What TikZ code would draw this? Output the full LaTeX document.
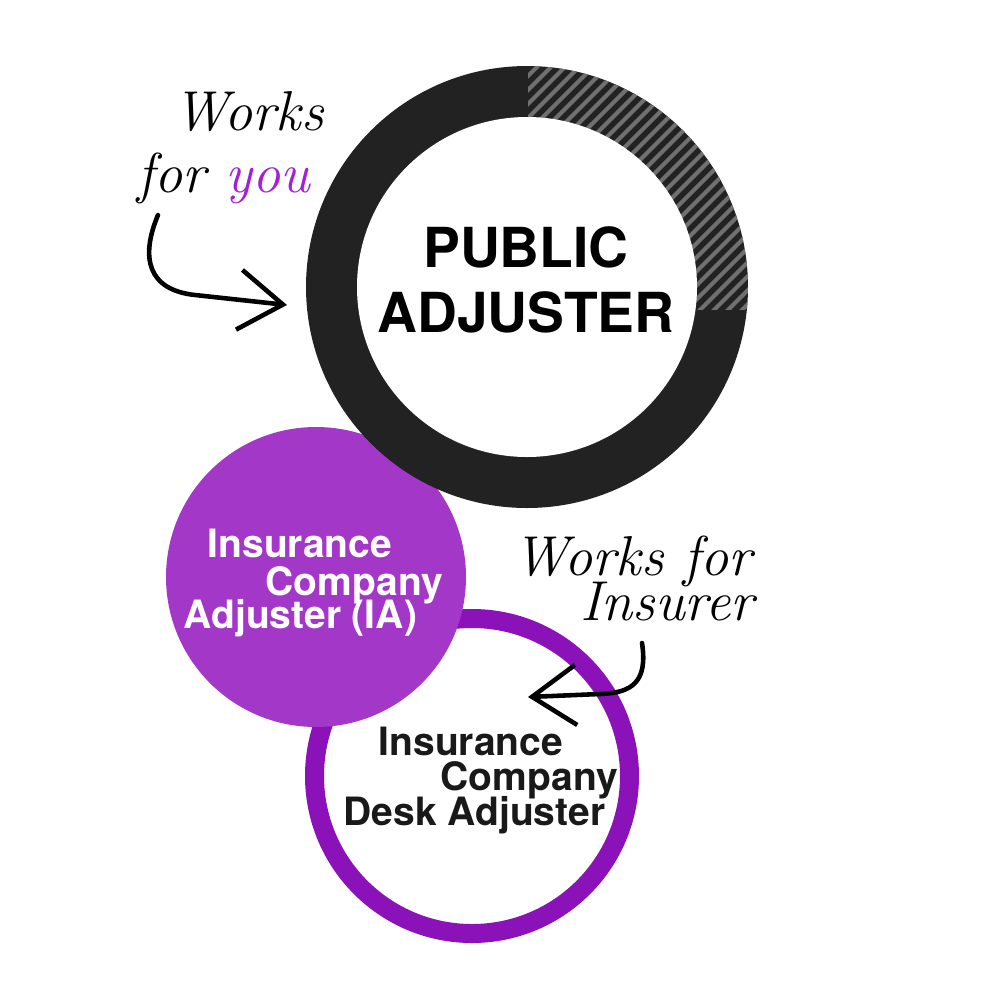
\documentclass[tikz,border=0pt]{standalone}
\usepackage{fontspec}
\setsansfont{TeX Gyre Heros}
\usepackage{tikz}
\usetikzlibrary{arrows.meta, calc}
\definecolor{ringBlack}{HTML}{222222}
\definecolor{hatchGray}{HTML}{707070}
\definecolor{iaPurple}{HTML}{A338C8}
\definecolor{deskPurple}{HTML}{8A12B8}
\definecolor{youPurple}{HTML}{A41FD6}
\newcommand{\handArrow}{{Straight Barb[length=4.4mm, width=6mm]}}

\begin{document}
\begin{tikzpicture}[x=0.1mm, y=-0.1mm, font=\sffamily\bfseries,
	big/.style={font=\sffamily\bfseries\fontsize{15.7}{18}\selectfont, anchor=base, inner sep=0pt},
	small/.style={font=\sffamily\bfseries\fontsize{11.1}{12}\selectfont, anchor=base west, inner sep=0pt},
	hand/.style={font=\rmfamily\itshape\fontsize{16}{18}\selectfont, anchor=base west, inner sep=0pt},
	scribble/.style={line width=1.3pt, line cap=round, line join=round}]
	\useasboundingbox[fill=white] (0,0) rectangle (1000,1000);
	
	% circles
	\node[circle, draw=deskPurple, line width=1.9mm, minimum size=31.5mm] (desk) at (472,776) {};
	\node[circle, fill=iaPurple, minimum size=30mm] (ia) at (316,577) {};
	\node[circle, fill=ringBlack, minimum size=44.2mm] (pa) at (527,287) {};
	
	% hatched quarter
	\begin{scope}
		\clip (528,0) rectangle (1000,309);
		\clip (pa.center) circle (221);
		\foreach \s in {260,274,...,780}
			\draw[hatchGray, line width=1.2pt] (\s,330) -- ++(300,-300);
	\end{scope}
	\fill[white] (pa.center) circle (170);
	
	% labels
	\node[big] (pa-top) at (526,267) {PUBLIC};
	\node[big] (pa-bot) at (526,332) {ADJUSTER};
	
	\node[small, white] (ia-1) at (207,557) {Insurance};
	\node[small, white] (ia-2) at (265,595) {Company};
	\node[small, white] (ia-3) at (183,628) {Adjuster (IA)};
	
	\node[small, black!90] (desk-1) at (378,755) {Insurance};
	\node[small, black!90] (desk-2) at (440,790) {Company};
	\node[small, black!90] (desk-3) at (343,825) {Desk Adjuster};
	
	\node[hand] (you-1) at (173,130) {Works};
	\node[hand] (you-2) at (137,192) {for \textcolor{youPurple}{you}};
	\node[hand] (ins-1) at (513,575) {Works for};
	\node[hand] (ins-2) at (580,620) {Insurer};
	
	% arrows
	\coordinate (you-tail) at (158,215);
	\coordinate (you-tip) at (287,305);
	\coordinate (ins-tail) at (642,643);
	\coordinate (ins-tip) at (528,697);
	\draw[scribble, -\handArrow] (you-tail) .. controls (140,258) and (148,290) .. (195,295)
		-- (you-tip);
	\draw[scribble, -\handArrow] (ins-tail) .. controls (648,682) and (632,693) .. (600,694)
		-- (ins-tip);
\end{tikzpicture}
\end{document}
